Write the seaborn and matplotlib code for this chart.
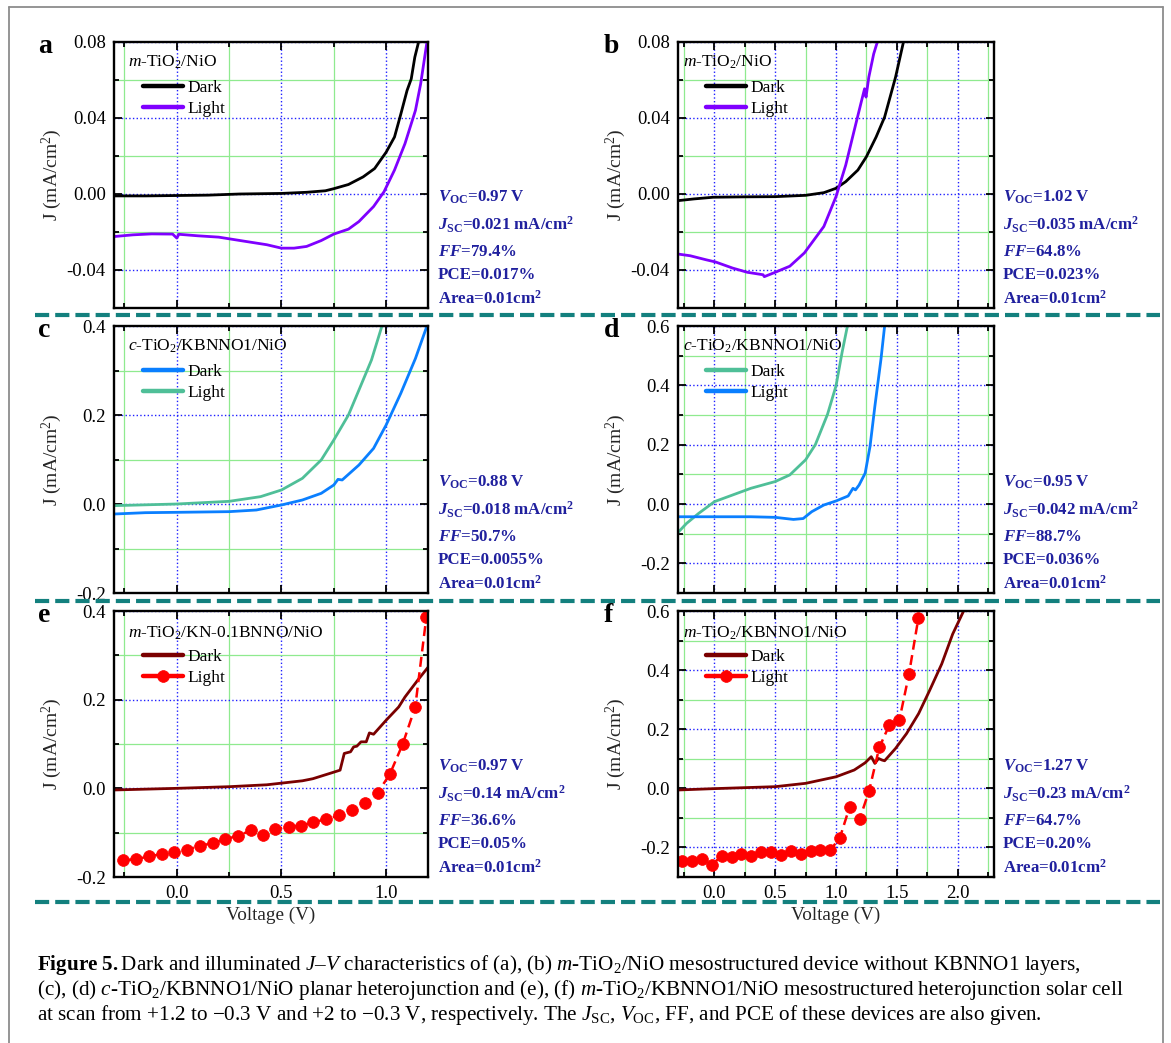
import matplotlib
matplotlib.use("Agg")
import matplotlib.pyplot as plt
import seaborn as sns
from matplotlib.ticker import MultipleLocator, FormatStrFormatter
from matplotlib.lines import Line2D

# ---------------- data ----------------
a_dark_v = [-0.30, -0.15, 0.0, 0.15, 0.30, 0.50, 0.62, 0.71, 0.75, 0.82, 0.89, 0.945, 1.0, 1.04, 1.07, 1.10, 1.12, 1.137, 1.155]
a_dark_j = [-0.0010, -0.0010, -0.0008, -0.0006, 0.0, 0.0003, 0.0009, 0.0017, 0.0028, 0.0050, 0.0090, 0.0134, 0.0220, 0.0300, 0.0420, 0.0545, 0.0606, 0.0720, 0.0800]
a_light_v = [-0.30, -0.21, -0.12, -0.02, 0.0, 0.01, 0.10, 0.20, 0.32, 0.43, 0.50, 0.56, 0.62, 0.69, 0.75, 0.82, 0.87, 0.94, 0.99, 1.04, 1.09, 1.14, 1.165, 1.195]
a_light_j = [-0.0224, -0.0215, -0.0210, -0.0211, -0.0232, -0.0212, -0.0220, -0.0227, -0.0248, -0.0267, -0.0285, -0.0285, -0.0276, -0.0245, -0.0211, -0.0185, -0.0145, -0.0066, 0.0012, 0.0126, 0.0265, 0.0440, 0.0580, 0.0800]

b_dark_v = [-0.30, -0.17, -0.01, 0.25, 0.50, 0.75, 0.90, 1.00, 1.08, 1.18, 1.25, 1.33, 1.40, 1.49, 1.555]
b_dark_j = [-0.0035, -0.0026, -0.0017, -0.0015, -0.0014, -0.0007, 0.0007, 0.0030, 0.0065, 0.0126, 0.0196, 0.0300, 0.0405, 0.0615, 0.0800]
b_light_v = [-0.30, -0.20, -0.07, 0.01, 0.15, 0.27, 0.40, 0.41, 0.50, 0.62, 0.74, 0.90, 1.00, 1.08, 1.15, 1.21, 1.235, 1.247, 1.27, 1.31, 1.34]
b_light_j = [-0.0316, -0.0325, -0.0346, -0.0358, -0.0390, -0.0412, -0.0425, -0.0435, -0.0412, -0.0380, -0.0310, -0.0171, -0.0014, 0.0152, 0.0335, 0.0490, 0.0554, 0.0510, 0.0615, 0.0737, 0.0800]

c_dark_v = [-0.30, -0.15, 0.0, 0.25, 0.38, 0.50, 0.60, 0.69, 0.75, 0.77, 0.79, 0.87, 0.94, 1.00, 1.07, 1.14, 1.195]
c_dark_j = [-0.0225, -0.0195, -0.0187, -0.0172, -0.0135, -0.0022, 0.0090, 0.0240, 0.0427, 0.0554, 0.0540, 0.0876, 0.1250, 0.1775, 0.2487, 0.3270, 0.4000]
c_light_v = [-0.30, 0.0, 0.25, 0.40, 0.50, 0.60, 0.69, 0.75, 0.82, 0.87, 0.93, 0.98]
c_light_j = [-0.0037, 0.0, 0.0060, 0.0165, 0.0315, 0.0577, 0.0990, 0.1438, 0.2000, 0.2560, 0.3236, 0.4000]

d_dark_v = [-0.30, -0.23, -0.13, 0.0, 0.15, 0.30, 0.50, 0.62, 0.75, 0.83, 0.93, 1.00, 1.05, 1.094]
d_dark_j = [-0.096, -0.0655, -0.0316, 0.0079, 0.0305, 0.053, 0.0757, 0.098, 0.149, 0.200, 0.302, 0.398, 0.511, 0.600]
d_light_v = [-0.30, 0.0, 0.30, 0.50, 0.65, 0.73, 0.80, 0.90, 1.00, 1.10, 1.14, 1.16, 1.19, 1.24, 1.28, 1.32, 1.37, 1.40]
d_light_j = [-0.043, -0.043, -0.043, -0.045, -0.052, -0.049, -0.026, -0.0034, 0.0102, 0.027, 0.053, 0.0475, 0.064, 0.104, 0.194, 0.330, 0.488, 0.600]

e_dark_v = [-0.30, 0.0, 0.25, 0.43, 0.60, 0.65, 0.74, 0.78, 0.80, 0.83, 0.845, 0.86, 0.88, 0.905, 0.92, 0.94, 1.0, 1.06, 1.09, 1.15, 1.20]
e_dark_j = [-0.0037, 0.0, 0.0037, 0.008, 0.017, 0.0217, 0.035, 0.041, 0.0787, 0.0824, 0.0936, 0.095, 0.1049, 0.1049, 0.125, 0.122, 0.1536, 0.1835, 0.206, 0.2434, 0.273]
e_light_v = [-0.256, -0.194, -0.133, -0.073, -0.011, 0.049, 0.110, 0.172, 0.232, 0.293, 0.353, 0.411, 0.470, 0.534, 0.594, 0.653, 0.713, 0.777, 0.835, 0.899, 0.960, 1.018, 1.079, 1.139, 1.192]
e_light_j = [-0.1625, -0.1596, -0.1536, -0.1483, -0.1446, -0.1386, -0.1296, -0.1236, -0.1146, -0.1071, -0.0951, -0.1049, -0.0921, -0.0861, -0.0839, -0.0764, -0.0697, -0.0607, -0.0487, -0.0322, -0.0097, 0.0322, 0.0996, 0.1835, 0.3860]

f_dark_v = [-0.30, 0.0, 0.50, 0.75, 1.00, 1.15, 1.24, 1.29, 1.32, 1.35, 1.38, 1.40, 1.49, 1.58, 1.68, 1.77, 1.87, 1.96, 2.05]
f_dark_j = [-0.0056, -0.001, 0.0056, 0.0169, 0.039, 0.062, 0.0865, 0.107, 0.0843, 0.101, 0.0955, 0.0933, 0.135, 0.185, 0.253, 0.331, 0.421, 0.522, 0.600]
f_light_v = [-0.266, -0.181, -0.103, -0.019, 0.059, 0.141, 0.222, 0.303, 0.384, 0.466, 0.547, 0.631, 0.709, 0.791, 0.872, 0.950, 1.031, 1.113, 1.194, 1.272, 1.356, 1.438, 1.522, 1.600, 1.678]
f_light_j = [-0.2472, -0.2472, -0.2393, -0.2584, -0.2281, -0.2337, -0.2225, -0.2303, -0.2157, -0.2157, -0.2247, -0.2135, -0.2213, -0.2135, -0.2101, -0.2101, -0.1685, -0.0618, -0.1045, -0.0090, 0.1382, 0.2135, 0.2326, 0.3854, 0.5764]

panel_letters = ["a", "b", "c", "d", "e", "f"]
device_titles = ["$m$-TiO$_2$/NiO", "$m$-TiO$_2$/NiO",
                 "$c$-TiO$_2$/KBNNO1/NiO", "$c$-TiO$_2$/KBNNO1/NiO",
                 "$m$-TiO$_2$/KN-0.1BNNO/NiO", "$m$-TiO$_2$/KBNNO1/NiO"]
voc_vals = ["0.97", "1.02", "0.88", "0.95", "0.97", "1.27"]
jsc_vals = ["0.021", "0.035", "0.018", "0.042", "0.14", "0.23"]
ff_vals = ["79.4", "64.8", "50.7", "88.7", "36.6", "64.7"]
pce_vals = ["0.017", "0.023", "0.0055", "0.036", "0.05", "0.20"]
area_vals = ["0.01"] * 6
series_labels = ["Dark", "Light"]

caption_lines = [
    r"$\mathbf{Figure\ 5.}$Dark and illuminated $J$–$V$ characteristics of (a), (b) $m$-TiO$_2$/NiO mesostructured device without KBNNO1 layers,",
    r"(c), (d) $c$-TiO$_2$/KBNNO1/NiO planar heterojunction and (e), (f) $m$-TiO$_2$/KBNNO1/NiO mesostructured heterojunction solar cell",
    r"at scan from +1.2 to −0.3 V and +2 to −0.3 V, respectively. The $J_{\mathrm{SC}}$, $V_{\mathrm{OC}}$, FF, and PCE of these devices are also given.",
]

# ---------------- style ----------------
sns.set_style("ticks")
plt.rcParams.update({
    "font.family": ["Liberation Serif", "DejaVu Serif"],
    "mathtext.fontset": "custom",
    "mathtext.rm": "Liberation Serif",
    "mathtext.it": "Liberation Serif:italic",
    "mathtext.bf": "Liberation Serif:bold",
    "mathtext.bfit": "Liberation Serif:italic:bold",
    "axes.unicode_minus": False,
    "text.color": "black",
    "xtick.color": "black",
    "ytick.color": "black",
})

W, H = 1171, 1043
fig = plt.figure(figsize=(W / 100, H / 100), dpi=100)
fig.patch.set_facecolor("white")

BLACK, PURPLE = "#000000", "#7F00FF"
BLUE, GREEN = "#0A7FFF", "#4FBF98"
MAROON, RED = "#7A0000", "#FF0000"
ANN = "#20209E"
TEAL = "#13807E"

# axes boxes in pixels: left, top, right, bottom
boxes = [(114, 42, 428, 308), (678, 42, 994, 308),
         (114, 326, 428, 593), (678, 326, 994, 593),
         (114, 611, 428, 877), (678, 611, 994, 877)]
xlims = [(-0.3, 1.2), (-0.3, 2.3)] * 3
ylims = [(-0.06, 0.08), (-0.06, 0.08), (-0.2, 0.4), (-0.3, 0.6), (-0.2, 0.4), (-0.3, 0.6)]
ymaj = [0.04, 0.04, 0.2, 0.2, 0.2, 0.2]
ymin = [0.02, 0.02, 0.1, 0.1, 0.1, 0.1]
yfmt = ["%.2f", "%.2f", "%.1f", "%.1f", "%.1f", "%.1f"]

series = [
    [(a_dark_v, a_dark_j, BLACK, False), (a_light_v, a_light_j, PURPLE, False)],
    [(b_dark_v, b_dark_j, BLACK, False), (b_light_v, b_light_j, PURPLE, False)],
    [(c_dark_v, c_dark_j, BLUE, False), (c_light_v, c_light_j, GREEN, False)],
    [(d_dark_v, d_dark_j, GREEN, False), (d_light_v, d_light_j, BLUE, False)],
    [(e_dark_v, e_dark_j, MAROON, False), (e_light_v, e_light_j, RED, True)],
    [(f_dark_v, f_dark_j, MAROON, False), (f_light_v, f_light_j, RED, True)],
]

for i, (l, t, r, b) in enumerate(boxes):
    ax = fig.add_axes([l / W, 1 - b / H, (r - l) / W, (b - t) / H])
    for (v, j, col, mk), lab in zip(series[i], series_labels):
        if mk:
            sns.lineplot(x=v, y=j, ax=ax, color=col, linewidth=1.8, sort=False,
                         estimator=None, label=lab, marker="o", markersize=8.5,
                         markeredgecolor=col, markeredgewidth=0.5,
                         linestyle=(0, (4, 2.2)))
        else:
            sns.lineplot(x=v, y=j, ax=ax, color=col, linewidth=2.0, sort=False,
                         estimator=None, label=lab)
    ax.set_xlim(*xlims[i])
    ax.set_ylim(*ylims[i])
    ax.xaxis.set_major_locator(MultipleLocator(0.5))
    ax.xaxis.set_minor_locator(MultipleLocator(0.25))
    ax.yaxis.set_major_locator(MultipleLocator(ymaj[i]))
    ax.yaxis.set_minor_locator(MultipleLocator(ymin[i]))
    ax.yaxis.set_major_formatter(FormatStrFormatter(yfmt[i]))
    ax.xaxis.set_major_formatter(FormatStrFormatter("%.1f"))
    ax.grid(which="major", color="#2020FF", linestyle=":", linewidth=1.0)
    ax.grid(which="minor", color="#8FEA8F", linestyle="-", linewidth=0.9)
    ax.set_axisbelow(True)
    ax.tick_params(which="both", direction="in", top=True, right=True,
                   width=1.3, labelsize=13.5, pad=6)
    ax.tick_params(which="major", length=6)
    ax.tick_params(which="minor", length=3.5)
    if i < 4:
        ax.tick_params(axis="x", labelbottom=False)
    else:
        ax.set_xlabel("Voltage (V)", fontsize=13.8, labelpad=3)
    for s in ax.spines.values():
        s.set_linewidth(1.7)
        s.set_color("black")
    ax.set_ylabel("J (mA/cm$^2$)", fontsize=14)
    ax.yaxis.set_label_coords(-0.158, 0.5)

    handles, labels = ax.get_legend_handles_labels()
    hx = 0.092 if i % 2 == 0 else 0.089
    leg = ax.legend(handles, labels, loc="upper left", bbox_to_anchor=(hx, 0.858),
                    frameon=False, fontsize=12.5, handlelength=2.3, handletextpad=0.25,
                    labelspacing=0.3, borderpad=0, borderaxespad=0)
    for h in leg.legend_handles:
        h.set_linewidth(3.2)
        h.set_linestyle("-")
    tx = 0.045 if i % 2 == 0 else 0.016
    ty = 0.924 if i < 4 else 0.915
    ax.text(tx, ty, device_titles[i], transform=ax.transAxes, fontsize=12.5,
            ha="left", va="center")

    # panel letter
    lx = 38 if i % 2 == 0 else 604
    ly = t + 11
    fig.text(lx / W, 1 - ly / H, panel_letters[i], fontsize=20, fontweight="bold",
             ha="left", va="baseline")

    # annotation block
    axx = 438 if i % 2 == 0 else 1003
    ann = [r"$\mathbfit{V}_{\mathbf{OC}}$=" + voc_vals[i] + " V",
           r"$\mathbfit{J}_{\mathbf{SC}}$=" + jsc_vals[i] + r" mA/cm$^{\mathbf{2}}$",
           r"$\mathbfit{FF}$=" + ff_vals[i] + "%",
           "PCE=" + pce_vals[i] + "%",
           "Area=" + area_vals[i] + r"cm$^{\mathbf{2}}$"]
    offs = [-111, -83, -56, -33, -9]
    for txt, o in zip(ann, offs):
        fig.text(axx / W, 1 - (b + o) / H, txt, color=ANN, fontsize=12.2,
                 fontweight="bold", ha="left", va="center")

# separators
for y in (315, 601, 902):
    fig.add_artist(Line2D([35 / W, 1160 / W], [1 - y / H, 1 - y / H],
                          transform=fig.transFigure, color=TEAL, linewidth=3,
                          linestyle=(0, (3.4, 1.45))))

# border
for xs, ys in [([9, 1163], [7, 7]), ([9, 9], [7, 1043]), ([1163, 1163], [7, 1043])]:
    fig.add_artist(Line2D([x / W for x in xs], [1 - y / H for y in ys],
                          transform=fig.transFigure, color="#8C8C8C", linewidth=1.3))

# caption
cap_texts = []
for k, line in enumerate(caption_lines):
    cap_texts.append(fig.text(37 / W, 1 - (965 + 25 * k) / H, line, fontsize=12,
                              ha="left", va="center"))
fig.canvas.draw()
w2 = cap_texts[1].get_window_extent().width
size = 12 * 1082 / w2
for t_ in cap_texts:
    t_.set_fontsize(size)

fig.savefig("out.png", dpi=100, facecolor="white")
